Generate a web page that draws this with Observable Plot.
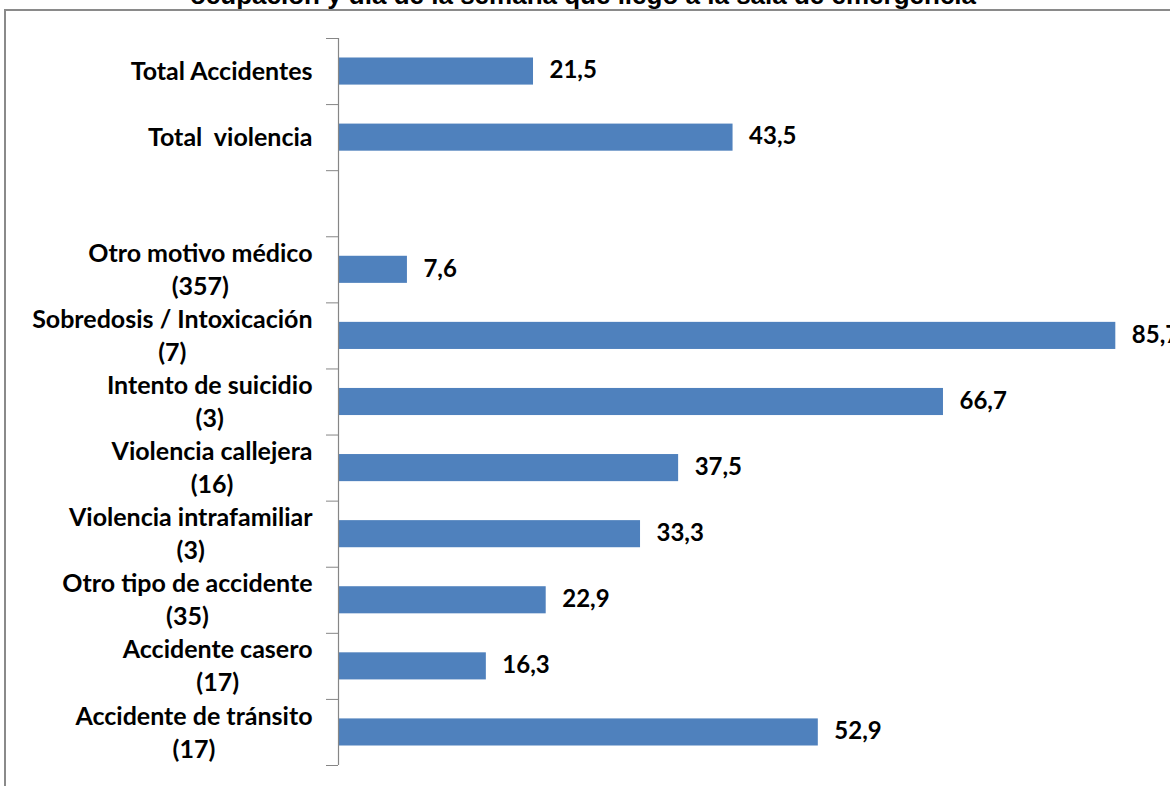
<!DOCTYPE html>
<html>
<head>
<meta charset="utf-8">
<script src="https://cdn.jsdelivr.net/npm/d3@7"></script>
<script src="https://cdn.jsdelivr.net/npm/@observablehq/plot@0.6"></script>
<style>
  html, body { margin: 0; padding: 0; background: #fff; }
  body { width: 1170px; height: 786px; overflow: hidden; position: relative; }
  #title { position: absolute; left: 0; width: 1166px; top: -18px; text-align: center;
           font-family: "Liberation Sans", Arial, sans-serif; font-weight: bold; font-size: 26px; line-height: 26px; color: #000; white-space: nowrap; }
  #frame { position: absolute; left: 4px; top: 9px; width: 1200px; height: 900px; border: 2px solid #8a8a8a; box-sizing: border-box; pointer-events: none; }
  #chart { position: absolute; left: 0; top: 0; }
  #chart svg { background: transparent !important; }
</style>
</head>
<body>
<div id="title">ocupación y día de la semana que llegó a la sala de emergencia</div>
<div id="chart"></div>
<div id="frame"></div>
<script>
const categories = [
  "Total Accidentes",
  "Total  violencia",
  "",
  "Otro motivo médico",
  "Sobredosis / Intoxicación",
  "Intento de suicidio",
  "Violencia callejera",
  "Violencia intrafamiliar",
  "Otro tipo de accidente",
  "Accidente casero",
  "Accidente de tránsito"
];
const counts = [null, null, null, 357, 7, 3, 16, 3, 35, 17, 17];
const values = [21.5, 43.5, null, 7.6, 85.7, 66.7, 37.5, 33.3, 22.9, 16.3, 52.9];

const rows = categories.map((c, i) => ({
  index: i,
  label: counts[i] == null ? c : c + "\n(" + counts[i] + ")",
  value: values[i]
}));
const barRows = rows.filter(d => d.value != null);
const fmt = v => v.toFixed(1).replace(".", ",");
const font = "Lato, 'Open Sans', sans-serif";

const chart = Plot.plot({
  width: 1170,
  height: 786,
  marginLeft: 338,
  marginRight: 0,
  marginTop: 38,
  marginBottom: 21,
  style: { background: "transparent", fontFamily: font, overflow: "hidden" },
  x: { domain: [0, 91.73], axis: null },
  y: { domain: [0, categories.length], range: [38, 765], axis: null },
  marks: [
    Plot.rectX(barRows, {
      x1: 0, x2: "value",
      y1: d => d.index + 0.295, y2: d => d.index + 0.705,
      fill: "#4F81BD"
    }),
    Plot.ruleX([0], { y1: 0, y2: categories.length, stroke: "#868686", strokeWidth: 1.2 }),
    Plot.axisY(d3.range(categories.length + 1), {
      tickSize: 12, tickFormat: () => "", stroke: "#868686", label: null
    }),
    Plot.text(barRows, {
      x: "value", y: d => d.index + 0.5, text: d => fmt(d.value),
      textAnchor: "start", dx: 16, dy: -1, fontSize: 24, fontWeight: "bold", fill: "#000"
    }),
    Plot.text(rows, {
      x: 0, y: d => d.index + 0.5, text: "label",
      textAnchor: "end", dx: -26, dy: -2, fontSize: 25, fontWeight: "bold", fill: "#000",
      lineHeight: 1.32
    })
  ]
});
document.getElementById("chart").appendChild(chart);

// Center the lines of each multi-line category label on each other (Excel style)
chart.querySelectorAll("text").forEach(t => {
  t.style.whiteSpace = "pre";
  const spans = t.querySelectorAll("tspan");
  if (spans.length < 2) return;
  const widths = Array.from(spans).map(s => s.getComputedTextLength());
  const w = Math.max(...widths);
  spans.forEach((s, k) => {
    s.setAttribute("text-anchor", "end");
    s.setAttribute("x", -(w - widths[k]) / 2);
  });
});
</script>
</body>
</html>
